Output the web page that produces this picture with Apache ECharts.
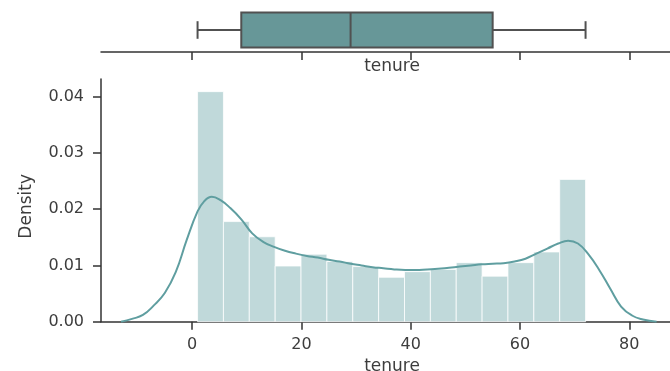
<!DOCTYPE html>
<html>
<head>
<meta charset="utf-8">
<script src="https://cdn.jsdelivr.net/npm/echarts@6/dist/echarts.min.js"></script>
<style>
  html, body { margin: 0; padding: 0; background: #ffffff; }
  #chart { width: 670px; height: 371px; }
</style>
</head>
<body>
<div id="chart"></div>
<script>
// Tenure distribution: box plot on top, histogram (density) + KDE below.
const tenureRange = [1, 72];           // first and last bin edge
const histDensity = [0.0409, 0.0178, 0.0151, 0.0099, 0.0120, 0.0107, 0.0098, 0.0079,
                     0.0089, 0.0093, 0.0105, 0.0081, 0.0105, 0.0124, 0.0253];
const kdeX = [-13, -11, -9, -7, -5, -3, -1, 1, 2.2, 3.6, 5.2, 7, 9, 11, 13, 15, 17, 19, 21, 23,
              25, 27, 29, 31, 33, 35, 37, 39, 41, 43, 45, 47, 49, 51, 53, 55, 57, 59, 61, 63,
              65, 67, 68.8, 70.6, 72.5, 74.5, 76.5, 78.5, 80.5, 82.5, 85];
const kdeY = [0.0000, 0.0005, 0.0012, 0.0029, 0.0051, 0.0088, 0.0145, 0.0196, 0.0214, 0.0222,
              0.0216, 0.0202, 0.0182, 0.0157, 0.0142, 0.0133, 0.0126, 0.0121, 0.0117, 0.0114,
              0.0110, 0.0107, 0.0103, 0.0100, 0.0097, 0.0095, 0.0093, 0.0092, 0.0092, 0.0093,
              0.0094, 0.0096, 0.0098, 0.0100, 0.0102, 0.0103, 0.0104, 0.0107, 0.0112, 0.0121,
              0.0130, 0.0139, 0.0144, 0.0139, 0.0120, 0.0092, 0.0059, 0.0027, 0.0011, 0.0004,
              0.0000];
const boxStats = [1, 9, 29, 55, 72];   // min, Q1, median, Q3, max
const xTicks = [0, 20, 40, 60, 80];
const yTicks = [0, 0.01, 0.02, 0.03, 0.04];
const varName = 'tenure';

const FONT = 'DejaVu Sans';
const AXIS = '#333333';
const TEXT = '#3d3d3d';
const KDE_COLOR = '#5f9ea0';
const BAR_COLOR = '#c0d9da';
const BOX_FILL = '#679798';
const BOX_LINE = '#515151';

// bin edges from range and bin count
const nBins = histDensity.length;
const binW = (tenureRange[1] - tenureRange[0]) / nBins;
const histData = histDensity.map((d, i) => [tenureRange[0] + i * binW, tenureRange[0] + (i + 1) * binW, d]);
const kdeData = kdeX.map((x, i) => [x, kdeY[i]]);

const X_MIN = -16.67, X_MAX = 89.83, Y_MAX = 0.04315;

const chart = echarts.init(document.getElementById('chart'), null, { renderer: 'canvas' });

chart.setOption({
  animation: false,
  backgroundColor: '#ffffff',
  textStyle: { fontFamily: FONT },
  grid: [
    { left: 101, top: 79, width: 582, height: 242.7, outerBoundsMode: 'none', containLabel: false },
    { left: 101, top: 8, width: 582, height: 44, outerBoundsMode: 'none', containLabel: false }
  ],
  xAxis: [
    {
      gridIndex: 0, type: 'value', min: X_MIN, max: X_MAX,
      name: varName, nameLocation: 'middle', nameGap: 30,
      nameTextStyle: { color: TEXT, fontSize: 17, fontFamily: FONT },
      axisLine: { show: true, onZero: false, lineStyle: { color: AXIS, width: 1.5 } },
      axisTick: { show: true, length: 8, customValues: xTicks, lineStyle: { color: AXIS, width: 1.5 } },
      axisLabel: { show: true, customValues: xTicks, color: TEXT, fontSize: 16, fontFamily: FONT, margin: 15 },
      splitLine: { show: false }
    },
    {
      gridIndex: 1, type: 'value', min: X_MIN, max: X_MAX, position: 'bottom',
      name: varName, nameLocation: 'middle', nameGap: 6,
      nameTextStyle: { color: TEXT, fontSize: 17, fontFamily: FONT },
      axisLine: { show: true, onZero: false, lineStyle: { color: AXIS, width: 1.5 } },
      axisTick: { show: true, length: 8, customValues: xTicks, lineStyle: { color: AXIS, width: 1.5 } },
      axisLabel: { show: false },
      splitLine: { show: false }
    }
  ],
  yAxis: [
    {
      gridIndex: 0, type: 'value', min: 0, max: Y_MAX,
      name: 'Density', nameLocation: 'middle', nameGap: 66,
      nameTextStyle: { color: TEXT, fontSize: 17, fontFamily: FONT, padding: [0, 12, 0, 0] },
      axisLine: { show: true, onZero: false, lineStyle: { color: AXIS, width: 1.5 } },
      axisTick: { show: true, length: 8, customValues: yTicks, lineStyle: { color: AXIS, width: 1.5 } },
      axisLabel: {
        show: true, customValues: yTicks, color: TEXT, fontSize: 16, fontFamily: FONT, margin: 17,
        formatter: v => Number(v).toFixed(2)
      },
      splitLine: { show: false }
    },
    {
      gridIndex: 1, type: 'category', data: [varName], show: false
    }
  ],
  series: [
    {
      type: 'custom',
      xAxisIndex: 0, yAxisIndex: 0,
      data: histData,
      encode: { x: [0, 1], y: 2 },
      renderItem: function (params, api) {
        const topLeft = api.coord([api.value(0), api.value(2)]);
        const botRight = api.coord([api.value(1), 0]);
        return {
          type: 'rect',
          shape: { x: topLeft[0], y: topLeft[1], width: botRight[0] - topLeft[0], height: botRight[1] - topLeft[1] },
          style: { fill: BAR_COLOR, stroke: 'rgba(255,255,255,0.75)', lineWidth: 1 }
        };
      },
      z: 2
    },
    {
      type: 'line',
      xAxisIndex: 0, yAxisIndex: 0,
      data: kdeData,
      smooth: 0.45,
      showSymbol: false,
      lineStyle: { color: KDE_COLOR, width: 2 },
      z: 3
    },
    {
      type: 'custom',
      xAxisIndex: 1, yAxisIndex: 1,
      data: [boxStats.concat([0])],
      encode: { x: [0, 1, 2, 3, 4], y: 5 },
      renderItem: function (params, api) {
        const cat = api.value(5);
        const band = api.size([0, 1])[1];
        const pMin = api.coord([api.value(0), cat]);
        const pQ1 = api.coord([api.value(1), cat]);
        const pMed = api.coord([api.value(2), cat]);
        const pQ3 = api.coord([api.value(3), cat]);
        const pMax = api.coord([api.value(4), cat]);
        const cy = pMed[1];
        const half = band * 0.4;
        const cap = band * 0.2;
        const lineStyle = { stroke: BOX_LINE, lineWidth: 2, fill: null };
        return {
          type: 'group',
          children: [
            { type: 'line', shape: { x1: pMin[0], y1: cy, x2: pQ1[0], y2: cy }, style: lineStyle },
            { type: 'line', shape: { x1: pQ3[0], y1: cy, x2: pMax[0], y2: cy }, style: lineStyle },
            { type: 'line', shape: { x1: pMin[0], y1: cy - cap, x2: pMin[0], y2: cy + cap }, style: lineStyle },
            { type: 'line', shape: { x1: pMax[0], y1: cy - cap, x2: pMax[0], y2: cy + cap }, style: lineStyle },
            {
              type: 'rect',
              shape: { x: pQ1[0], y: cy - half, width: pQ3[0] - pQ1[0], height: half * 2 },
              style: { fill: BOX_FILL, stroke: BOX_LINE, lineWidth: 2 }
            },
            { type: 'line', shape: { x1: pMed[0], y1: cy - half, x2: pMed[0], y2: cy + half }, style: lineStyle }
          ]
        };
      },
      z: 2
    }
  ]
});
</script>
</body>
</html>
